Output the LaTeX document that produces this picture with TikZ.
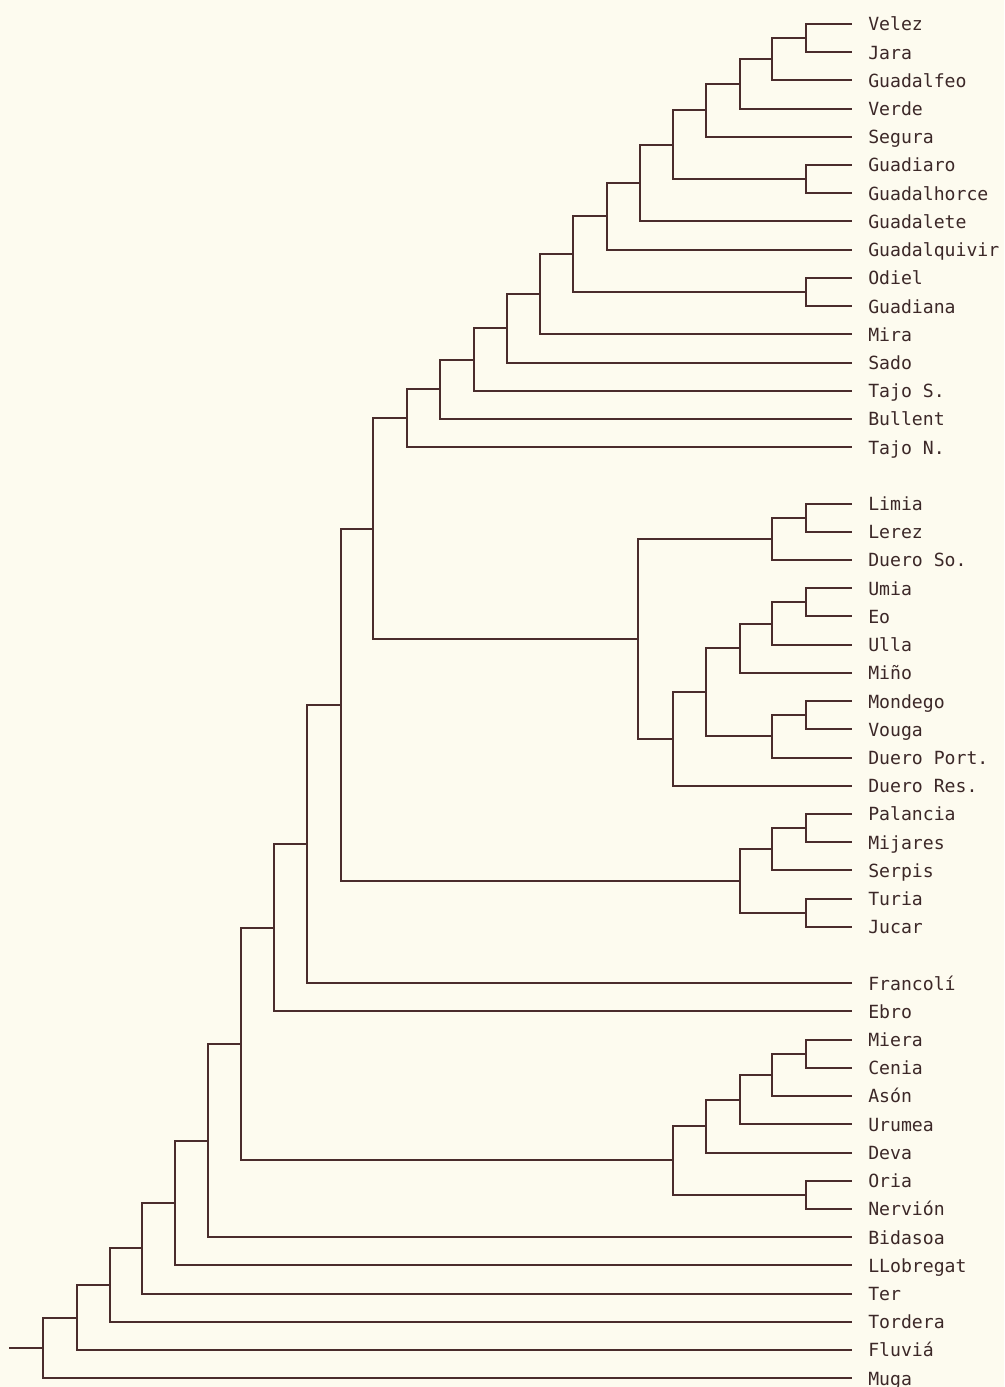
\documentclass[tikz,border=0pt]{standalone}
\usepackage{fontspec}
\setmonofont{DejaVu Sans Mono}
\usetikzlibrary{calc}
\definecolor{bgcol}{HTML}{FDFBEF}
\definecolor{linecol}{HTML}{4A2C2C}
\definecolor{txtcol}{HTML}{3C2828}
\tikzset{
  branch/.style={draw=linecol, line width=1.5pt, line cap=rect},
  lbl/.style={anchor=base west, inner sep=0pt, text=txtcol, font=\ttfamily\fontsize{13.6}{16}\selectfont},
}
\newcommand\leafitem[3]{%
  \coordinate (#1) at (851,{24+28.2125*#2});
  \node[lbl] (t#1) at (868,{24+28.2125*#2+6.9}) {#3};
}
\newcommand\junction[4]{%
  \coordinate (tmp#1) at ($(#3)!0.5!(#4)$);
  \coordinate (#1) at (#2,0 |- tmp#1);
  \path[branch] (#3) -| (#1) |- (#4);
}
\begin{document}
\begin{tikzpicture}[x=0.75pt,y=-0.75pt]
\fill[bgcol] (0,0) rectangle (1004,1387);
\useasboundingbox (0,0) rectangle (1004,1387);
% leaves
\leafitem{velez}{0}{Velez}
\leafitem{jara}{1}{Jara}
\leafitem{guadalfeo}{2}{Guadalfeo}
\leafitem{verde}{3}{Verde}
\leafitem{segura}{4}{Segura}
\leafitem{guadiaro}{5}{Guadiaro}
\leafitem{guadalhorce}{6}{Guadalhorce}
\leafitem{guadalete}{7}{Guadalete}
\leafitem{guadalquivir}{8}{Guadalquivir}
\leafitem{odiel}{9}{Odiel}
\leafitem{guadiana}{10}{Guadiana}
\leafitem{mira}{11}{Mira}
\leafitem{sado}{12}{Sado}
\leafitem{tajoS}{13}{Tajo S.}
\leafitem{bullent}{14}{Bullent}
\leafitem{tajoN}{15}{Tajo N.}
\leafitem{limia}{17}{Limia}
\leafitem{lerez}{18}{Lerez}
\leafitem{dueroSo}{19}{Duero So.}
\leafitem{umia}{20}{Umia}
\leafitem{eo}{21}{Eo}
\leafitem{ulla}{22}{Ulla}
\leafitem{mino}{23}{Miño}
\leafitem{mondego}{24}{Mondego}
\leafitem{vouga}{25}{Vouga}
\leafitem{dueroPort}{26}{Duero Port.}
\leafitem{dueroRes}{27}{Duero Res.}
\leafitem{palancia}{28}{Palancia}
\leafitem{mijares}{29}{Mijares}
\leafitem{serpis}{30}{Serpis}
\leafitem{turia}{31}{Turia}
\leafitem{jucar}{32}{Jucar}
\leafitem{francoli}{34}{Francolí}
\leafitem{ebro}{35}{Ebro}
\leafitem{miera}{36}{Miera}
\leafitem{cenia}{37}{Cenia}
\leafitem{ason}{38}{Asón}
\leafitem{urumea}{39}{Urumea}
\leafitem{deva}{40}{Deva}
\leafitem{oria}{41}{Oria}
\leafitem{nervion}{42}{Nervión}
\leafitem{bidasoa}{43}{Bidasoa}
\leafitem{llobregat}{44}{LLobregat}
\leafitem{ter}{45}{Ter}
\leafitem{tordera}{46}{Tordera}
\leafitem{fluvia}{47}{Fluviá}
\leafitem{muga}{48}{Muga}
% southern cluster
\junction{vj}{806}{velez}{jara}
\junction{s11}{772}{vj}{guadalfeo}
\junction{s10}{740}{s11}{verde}
\junction{s9}{706}{s10}{segura}
\junction{gg}{806}{guadiaro}{guadalhorce}
\junction{s8}{673}{s9}{gg}
\junction{s7}{640}{s8}{guadalete}
\junction{s6}{607}{s7}{guadalquivir}
\junction{odg}{806}{odiel}{guadiana}
\junction{s5}{573}{s6}{odg}
\junction{s4}{540}{s5}{mira}
\junction{s3}{507}{s4}{sado}
\junction{s2}{474}{s3}{tajoS}
\junction{s1}{440}{s2}{bullent}
\junction{south}{407}{s1}{tajoN}
% atlantic cluster
\junction{ll}{806}{limia}{lerez}
\junction{at1}{772}{ll}{dueroSo}
\junction{ue}{806}{umia}{eo}
\junction{at6}{772}{ue}{ulla}
\junction{at4}{740}{at6}{mino}
\junction{mv}{806}{mondego}{vouga}
\junction{at5}{772}{mv}{dueroPort}
\junction{at3}{706}{at4}{at5}
\junction{at2}{673}{at3}{dueroRes}
\junction{atl}{638}{at1}{at2}
\junction{J}{373}{south}{atl}
% levante cluster
\junction{l3}{806}{palancia}{mijares}
\junction{l1}{772}{l3}{serpis}
\junction{l2}{806}{turia}{jucar}
\junction{lev}{740}{l1}{l2}
\junction{I}{341}{J}{lev}
\junction{H}{307}{I}{francoli}
\junction{G}{274}{H}{ebro}
% cantabrian cluster
\junction{cv}{806}{miera}{cenia}
\junction{cw}{772}{cv}{ason}
\junction{cz}{740}{cw}{urumea}
\junction{cx}{706}{cz}{deva}
\junction{cy}{806}{oria}{nervion}
\junction{cant}{673}{cx}{cy}
\junction{F}{241}{G}{cant}
\junction{E}{208}{F}{bidasoa}
\junction{D}{175}{E}{llobregat}
\junction{C}{142}{D}{ter}
\junction{B}{110}{C}{tordera}
\junction{A}{77}{B}{fluvia}
\junction{root}{43}{A}{muga}
\coordinate (stub) at (10,0 |- root);
\path[branch] (stub) -- (root);
\end{tikzpicture}
\end{document}
